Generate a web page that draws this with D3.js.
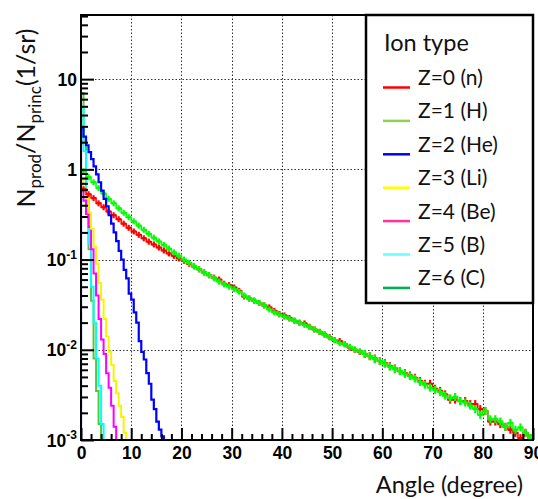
<!DOCTYPE html>
<html><head><meta charset="utf-8">
<script src="https://cdn.jsdelivr.net/npm/d3@7"></script>
<style>body{margin:0;background:#fff}svg{display:block}</style>
</head><body><svg id="c" width="538" height="499"></svg>
<script>
// ---------- data ----------
const seriesLabels = ["Z=0 (n)", "Z=1 (H)", "Z=2 (He)", "Z=3 (Li)", "Z=4 (Be)", "Z=5 (B)", "Z=6 (C)"];
const legendTitle = "Ion type";
const binWidthLight = 1;    // degrees, n and H
const binWidthHeavy = 0.5;  // degrees, He..C
const valuesN = [0.60,0.53,0.48,0.42,0.38,0.34,0.31,0.28,0.25,0.225,
  0.205,0.188,0.172,0.158,0.147,0.136,0.126,0.117,0.110,0.103,
  0.097,0.090,0.084,0.078,0.072,0.067,0.063,0.060,0.054,0.052,
  0.049,0.045,0.039,0.037,0.035,0.033,0.031,0.0295,0.027,0.025,
  0.024,0.0225,0.021,0.020,0.0196,0.018,0.0168,0.0158,0.0148,0.0138,
  0.0128,0.0125,0.0115,0.0106,0.0100,0.0095,0.0090,0.0085,0.0080,0.0075,
  0.0071,0.0066,0.0062,0.0058,0.0055,0.0052,0.0049,0.0045,0.0042,0.0042,
  0.0037,0.0035,0.0032,0.0028,0.0028,0.0027,0.0027,0.0025,0.0025,0.0022,
  0.0021,0.0016,0.0016,0.0015,0.0014,0.0013,0.0012,0.00105,0.0012,0.00105];
const valuesH = [0.95,0.82,0.72,0.62,0.54,0.47,0.42,0.37,0.33,0.295,
  0.265,0.238,0.214,0.193,0.175,0.159,0.145,0.132,0.120,0.110,
  0.100,0.092,0.085,0.078,0.072,0.067,0.062,0.057,0.053,0.050,
  0.047,0.044,0.040,0.037,0.035,0.033,0.031,0.028,0.026,0.0245,
  0.0232,0.022,0.021,0.0198,0.0188,0.0178,0.0168,0.0158,0.0147,0.0137,
  0.0128,0.0118,0.0116,0.0108,0.0101,0.0096,0.0090,0.0085,0.0079,0.0075,
  0.0070,0.0065,0.0061,0.0058,0.0054,0.0051,0.0048,0.0044,0.0041,0.0038,
  0.0036,0.0034,0.0031,0.0029,0.0030,0.0027,0.0026,0.0024,0.0022,0.0019,
  0.0021,0.0017,0.0017,0.0016,0.0014,0.00155,0.0013,0.00138,0.0012,0.00105];
const valuesHe = [2.9,2.3,1.85,1.55,1.3,1.08,0.88,0.72,0.58,0.47,
  0.39,0.31,0.25,0.2,0.16,0.125,0.1,0.077,0.062,0.042,
  0.036,0.026,0.02,0.0125,0.0095,0.0078,0.0055,0.0042,0.0028,0.0022,
  0.0016,0.0013,0.0011];
const valuesLi = [0.8,0.6,0.48,0.33,0.22,0.14,0.09,0.055,0.036,0.022,
  0.014,0.0095,0.0068,0.0045,0.0033,0.0024,0.0018,0.0012];
const valuesBe = [0.6,0.45,0.32,0.23,0.13,0.07,0.04,0.022,0.013,0.009,
  0.0055,0.0038,0.0024,0.0014];
const valuesB = [5,1.6,0.45,0.15,0.05,0.02,0.008,0.004,0.0015];
const valuesC = [7,2,0.5,0.13,0.035,0.008,0.0035,0.0015];
const xTickValues = [0,10,20,30,40,50,60,70,80,90];
const xMinorStep = 2;
const yTickValues = [0.001,0.01,0.1,1,10];
const yTickBase = ["10","10","10","1","10"];
const yTickExp = ["-3","-2","-1","",""];
const xDomain = [0, 90];
const yDomain = [0.001, 51.4];
const xTitle = "Angle (degree)";

// ---------- layout ----------
const L = 81, R = 533, T = 15, B = 440;
const svg = d3.select("#c");
const x = d3.scaleLinear().domain(xDomain).range([L, R]);
const y = d3.scaleLog().domain(yDomain).range([B, T]);

const histColors = ["#ff0000","#00ff00","#0000ff","#f5f500","#ff00ff","#00ffff","#55c83a"];
const legendColors = ["#ff0000","#92d050","#0000ff","#ffff00","#ff3399","#66ffff","#00b050"];

svg.append("defs").append("clipPath").attr("id","plot")
  .append("rect").attr("x",L).attr("y",T).attr("width",R-L).attr("height",B-T);

// grid
const grid = svg.append("g").attr("stroke","#333").attr("stroke-width",1).attr("stroke-dasharray","1.5,2");
grid.selectAll("line.v").data(xTickValues.filter(d=>d>0&&d<90)).join("line")
  .attr("x1",d=>Math.round(x(d))+0.5).attr("x2",d=>Math.round(x(d))+0.5).attr("y1",T).attr("y2",B);
grid.selectAll("line.h").data(yTickValues.filter(d=>d>0.001)).join("line")
  .attr("y1",d=>Math.round(y(d))+0.5).attr("y2",d=>Math.round(y(d))+0.5).attr("x1",L).attr("x2",R);

// histograms
const plot = svg.append("g").attr("clip-path","url(#plot)");
function stepPath(vals, w){
  const p = d3.path();
  p.moveTo(x(0), B+20);
  vals.forEach((v,i)=>{ p.lineTo(x(i*w), y(v)); p.lineTo(x((i+1)*w), y(v)); });
  p.lineTo(x(vals.length*w), B+20);
  return p.toString();
}
function crossHist(vals, w, color){
  const g = plot.append("g").attr("stroke",color).attr("stroke-width",2.2).attr("fill","none");
  g.append("path").attr("d", stepPath(vals, w)).attr("stroke-width",1.5);
  g.selectAll("line.h").data(vals).join("line")
    .attr("x1",(d,i)=>x(i*w)).attr("x2",(d,i)=>x((i+1)*w))
    .attr("y1",d=>y(d)).attr("y2",d=>y(d));
  g.selectAll("line.e").data(vals).join("line")
    .attr("x1",(d,i)=>x((i+0.5)*w)).attr("x2",(d,i)=>x((i+0.5)*w))
    .attr("y1",(d,i)=>y(d)-(i>55?4:3)).attr("y2",(d,i)=>y(d)+(i>55?4:3));
}
[[valuesC,6],[valuesB,5],[valuesBe,4],[valuesLi,3]].forEach(([v,k])=>{
  plot.append("path").attr("d", stepPath(v, binWidthHeavy)).attr("fill","none")
    .attr("stroke", histColors[k]).attr("stroke-width",2);
});
crossHist(valuesN, binWidthLight, histColors[0]);
crossHist(valuesH, binWidthLight, histColors[1]);
plot.append("path").attr("d", stepPath(valuesHe, binWidthHeavy)).attr("fill","none")
  .attr("stroke", histColors[2]).attr("stroke-width",2.2);

// axes
const tickFont = "'Liberation Sans Narrow','Liberation Sans',Arial,sans-serif";
const xMinor = d3.range(xDomain[0], xDomain[1]+0.001, xMinorStep).filter(d=>d%10!==0);
const xAxisMinor = svg.append("g").attr("transform",`translate(0,${B})`)
  .call(d3.axisBottom(x).tickValues(xMinor).tickSize(-6).tickFormat(""));
const xAxis = svg.append("g").attr("transform",`translate(0,${B})`)
  .call(d3.axisBottom(x).tickValues(xTickValues).tickSize(-12).tickPadding(7));
const yMinor = [];
for (let e=-3; e<=1; e++) for (let m=2; m<=9; m++){ const v=m*Math.pow(10,e); if(v<yDomain[1]) yMinor.push(v); }
const yAxisMinor = svg.append("g").attr("transform",`translate(${L},0)`)
  .call(d3.axisLeft(y).tickValues(yMinor).tickSize(-7).tickFormat(""));
const yAxis = svg.append("g").attr("transform",`translate(${L},0)`)
  .call(d3.axisLeft(y).tickValues(yTickValues).tickSize(-13).tickPadding(4).tickFormat(""));
[xAxisMinor,xAxis,yAxisMinor,yAxis].forEach(a=>{
  a.select(".domain").remove();
  a.selectAll(".tick line").attr("stroke","#000").attr("stroke-width",2);
});
xAxis.selectAll(".tick text").attr("font-family",tickFont).attr("font-weight","bold")
  .attr("font-size",17.5).attr("fill","#000").attr("dy",null).attr("y",19);
yAxis.selectAll(".tick text").each(function(d,i){
  const t = d3.select(this).attr("font-family",tickFont).attr("font-weight","bold")
    .attr("font-size",17.5).attr("fill","#000").attr("x",-4).attr("dy","0.35em").attr("text-anchor","end");
  t.append("tspan").text(yTickBase[i]);
  if (yTickExp[i]) t.append("tspan").attr("font-size",12).attr("dy","-0.6em").text(yTickExp[i]);
});

// frame
svg.append("rect").attr("x",L).attr("y",T).attr("width",R-L).attr("height",B-T)
  .attr("fill","none").attr("stroke","#000").attr("stroke-width",2);

// titles
const titleFont = "Lato,'Open Sans',sans-serif";
svg.append("text").attr("x",523).attr("y",493).attr("text-anchor","end")
  .attr("font-family",titleFont).attr("font-size",23.5).attr("fill","#111").text(xTitle);
const yt = svg.append("text").attr("transform","translate(35,118) rotate(-90)")
  .attr("text-anchor","middle").attr("font-family",titleFont).attr("font-size",25).attr("fill","#111");
yt.append("tspan").text("N");
yt.append("tspan").attr("font-size",17).attr("dy",6).text("prod");
yt.append("tspan").attr("dy",-6).text("/N");
yt.append("tspan").attr("font-size",17).attr("dy",6).text("princ");
yt.append("tspan").attr("dy",-6).text("(1/sr)");

// legend
const lg = svg.append("g");
lg.append("rect").attr("x",366).attr("y",15).attr("width",167).attr("height",288)
  .attr("fill","#fff").attr("stroke","#000").attr("stroke-width",2.5);
lg.append("text").attr("x",384).attr("y",51).attr("font-family",titleFont).attr("font-size",23.5)
  .attr("fill","#111").text(legendTitle);
const rows = lg.selectAll("g.row").data(seriesLabels).join("g")
  .attr("transform",(d,i)=>`translate(0,${85 + i*33.4})`);
rows.append("line").attr("x1",383).attr("x2",410).attr("y1",2.5).attr("y2",2.5)
  .attr("stroke",(d,i)=>legendColors[i]).attr("stroke-width",2.5);
rows.append("text").attr("x",418).attr("y",0).attr("font-family",titleFont).attr("font-size",21)
  .attr("fill","#111").text(d=>d);
</script></body></html>
